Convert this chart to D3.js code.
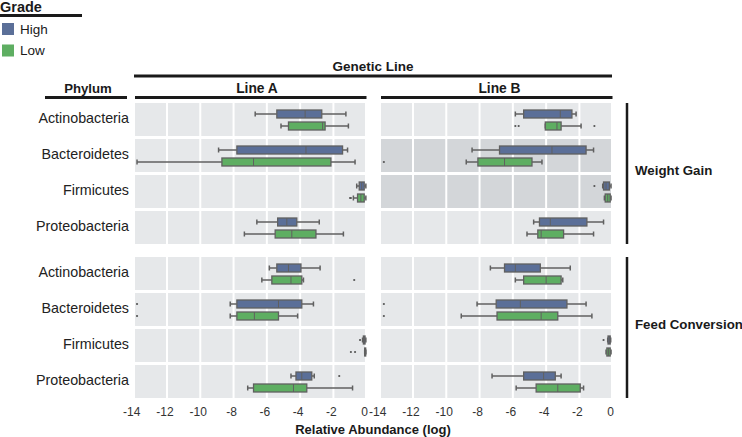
<!DOCTYPE html>
<html><head><meta charset="utf-8">
<script src="https://cdn.jsdelivr.net/npm/d3@7/dist/d3.min.js"></script>
<style>body{margin:0;background:#fff}svg{display:block;font-family:"Liberation Sans",Arial,sans-serif}</style>
</head><body><svg id="c" width="742" height="437"></svg>
<script>
const phyla = ["Actinobacteria","Bacteroidetes","Firmicutes","Proteobacteria"];
const geneticLines = ["Line A","Line B"];
const traits = ["Weight Gain","Feed Conversion"];
const grades = ["High","Low"];
const gradeColors = ["#5b6f98","#5eae62"];
const xTicks = [-14,-12,-10,-8,-6,-4,-2,0];
// [whiskerLow, q1, median, q3, whiskerHigh] per phylum
const wgLineAHigh = [[-6.7,-5.4,-3.7,-2.7,-1.25],[-8.9,-7.8,-3.65,-1.45,-1.15],[-0.6,-0.45,-0.3,-0.15,-0.05],[-6.6,-5.35,-4.8,-4.2,-2.85]];
const wgLineALow  = [[-5.15,-4.7,-2.65,-2.5,-1.1],[-13.8,-8.7,-6.8,-2.15,-0.7],[-0.8,-0.55,-0.35,-0.15,-0.05],[-7.35,-5.5,-4.5,-3.05,-1.4]];
const wgLineBHigh = [[-5.85,-5.35,-3.15,-2.45,-2.2],[-8.45,-6.8,-3.65,-1.6,-1.15],[-0.6,-0.55,-0.4,-0.2,-0.1],[-4.75,-4.4,-3.75,-1.55,-0.55]];
const wgLineBLow  = [[-4.05,-4.05,-3.35,-3.1,-1.9],[-8.8,-8.1,-6.5,-4.85,-4.25],[-0.5,-0.45,-0.3,-0.15,-0.1],[-5.15,-4.5,-4.3,-2.95,-1.15]];
const fcLineAHigh = [[-5.85,-5.4,-4.7,-3.95,-2.8],[-8.2,-7.8,-5.3,-3.9,-3.2],[-0.25,-0.2,-0.15,-0.1,-0.05],[-4.55,-4.25,-3.9,-3.3,-3.15]];
const fcLineALow  = [[-6.3,-5.7,-4.55,-3.9,-3.8],[-8.2,-7.8,-6.75,-5.3,-4.15],[-0.12,-0.12,-0.1,-0.07,-0.05],[-7.15,-6.8,-4.4,-3.6,-0.85]];
const fcLineBHigh = [[-7.35,-6.5,-5.85,-4.35,-2.55],[-8.15,-7.0,-5.55,-2.75,-1.6],[-0.3,-0.28,-0.2,-0.15,-0.12],[-7.25,-5.35,-4.15,-3.45,-3.1]];
const fcLineBLow  = [[-5.85,-5.35,-4.0,-3.1,-3.0],[-9.1,-6.95,-4.3,-3.3,-1.25],[-0.4,-0.35,-0.25,-0.15,-0.1],[-5.8,-4.6,-3.3,-1.95,-1.75]];
// outliers per phylum
const wgLineAHighOut = [[],[],[],[]];
const wgLineALowOut  = [[],[],[-1.0,-0.95],[]];
const wgLineBHighOut = [[],[],[-1.1],[]];
const wgLineBLowOut  = [[-5.85,-5.65,-1.1],[-13.75],[],[]];
const fcLineAHighOut = [[],[-13.8],[-0.4],[-1.65]];
const fcLineALowOut  = [[-0.75],[-13.8],[-0.95,-0.7],[]];
const fcLineBHighOut = [[],[-13.75],[-0.55],[]];
const fcLineBLowOut  = [[],[-13.75],[],[]];
const highlighted = [["Weight Gain","Line B","Bacteroidetes"],["Weight Gain","Line B","Firmicutes"]];

const stats = {
  "Weight Gain": {"Line A": [wgLineAHigh, wgLineALow], "Line B": [wgLineBHigh, wgLineBLow]},
  "Feed Conversion": {"Line A": [fcLineAHigh, fcLineALow], "Line B": [fcLineBHigh, fcLineBLow]}
};
const outs = {
  "Weight Gain": {"Line A": [wgLineAHighOut, wgLineALowOut], "Line B": [wgLineBHighOut, wgLineBLowOut]},
  "Feed Conversion": {"Line A": [fcLineAHighOut, fcLineALowOut], "Line B": [fcLineBHighOut, fcLineBLowOut]}
};

const svg = d3.select("#c");
const ink = "#1a1a1a";
const panelX = {"Line A": [135, 365], "Line B": [381, 611]};
const headerShift = {"Line A": 7, "Line B": 3.5};
const xScales = {};
geneticLines.forEach(l => {
  const [a, b] = panelX[l];
  xScales[l] = d3.scaleLinear().domain([-14, 0]).range([a - 1.3, b + 1.7]);
});
const groupY = {"Weight Gain": [103, 244], "Feed Conversion": [257, 398]};
const yScales = {};
traits.forEach(t => {
  yScales[t] = d3.scaleBand().domain(phyla).range(groupY[t]).paddingInner(3/36).paddingOuter(0);
});
const inner = d3.scalePoint().domain(grades).range([11, 23]);
const boxH = 8;

// Legend
svg.append("text").attr("x", 0).attr("y", 12).attr("font-weight", "bold").attr("font-size", 14.5).attr("fill", ink).text("Grade");
svg.append("line").attr("x1", 0).attr("x2", 82).attr("y1", 15.5).attr("y2", 15.5).attr("stroke", ink).attr("stroke-width", 3);
grades.forEach((g, i) => {
  const y = 23 + i * 21.5;
  svg.append("rect").attr("x", 2).attr("y", y).attr("width", 12).attr("height", 12).attr("fill", gradeColors[i]);
  svg.append("text").attr("x", 20).attr("y", y + 6).attr("dy", "0.35em").attr("font-size", 13.5).attr("fill", ink).text(g);
});

// Headers
svg.append("text").attr("x", 373).attr("y", 66).attr("dy", "0.35em").attr("text-anchor", "middle").attr("font-weight", "bold").attr("font-size", 13.5).attr("fill", ink).text("Genetic Line");
svg.append("line").attr("x1", 134).attr("x2", 612).attr("y1", 76).attr("y2", 76).attr("stroke", ink).attr("stroke-width", 3);
svg.append("text").attr("x", 88).attr("y", 88).attr("dy", "0.35em").attr("text-anchor", "middle").attr("font-weight", "bold").attr("font-size", 13.2).attr("fill", ink).text("Phylum");
svg.append("line").attr("x1", 45).attr("x2", 127).attr("y1", 97.5).attr("y2", 97.5).attr("stroke", ink).attr("stroke-width", 3);
geneticLines.forEach(l => {
  const [a, b] = panelX[l];
  svg.append("text").attr("x", (a + b) / 2 + headerShift[l]).attr("y", 88).attr("dy", "0.35em").attr("text-anchor", "middle").attr("font-weight", "bold").attr("font-size", 13.8).attr("fill", ink).text(l);
  svg.append("line").attr("x1", a).attr("x2", b + 1.5).attr("y1", 97.5).attr("y2", 97.5).attr("stroke", ink).attr("stroke-width", 3);
});

// Row labels and strip labels
traits.forEach(t => {
  const ys = yScales[t];
  phyla.forEach(p => {
    svg.append("text").attr("x", 129).attr("y", ys(p) + ys.bandwidth() / 2 - 1.5).attr("dy", "0.35em").attr("text-anchor", "end").attr("font-size", 14.3).attr("fill", "#222").text(p);
  });
  const [y0, y1] = groupY[t];
  svg.append("line").attr("x1", 627).attr("x2", 627).attr("y1", y0).attr("y2", y1).attr("stroke", ink).attr("stroke-width", 2.5);
  svg.append("text").attr("x", 635).attr("y", (y0 + y1) / 2 - 3).attr("dy", "0.35em").attr("font-weight", "bold").attr("font-size", 13.3).attr("fill", ink).text(t);
});

// Panels
geneticLines.forEach(l => {
  const xs = xScales[l];
  const [a, b] = panelX[l];
  traits.forEach(t => {
    const ys = yScales[t];
    const g = svg.append("g");
    phyla.forEach((p, pi) => {
      const hl = highlighted.some(h => h[0] === t && h[1] === l && h[2] === p);
      const top = ys(p), bw = ys.bandwidth();
      g.append("rect").attr("x", a).attr("y", top).attr("width", b - a).attr("height", bw).attr("fill", hl ? "#d3d6d9" : "#e6e8ea");
      xTicks.slice(1, -1).forEach(v => {
        g.append("line").attr("x1", xs(v)).attr("x2", xs(v)).attr("y1", top).attr("y2", top + bw).attr("stroke", "#fff").attr("stroke-width", 2);
      });
      grades.forEach((gr, gi) => {
        const s = stats[t][l][gi][pi];
        const cy = top + inner(gr);
        const st = "#606060";
        g.append("line").attr("x1", xs(s[0])).attr("x2", xs(s[1])).attr("y1", cy).attr("y2", cy).attr("stroke", st).attr("stroke-width", 1.5);
        g.append("line").attr("x1", xs(s[3])).attr("x2", xs(s[4])).attr("y1", cy).attr("y2", cy).attr("stroke", st).attr("stroke-width", 1.5);
        [s[0], s[4]].forEach(v => g.append("line").attr("x1", xs(v)).attr("x2", xs(v)).attr("y1", cy - 2.5).attr("y2", cy + 2.5).attr("stroke", st).attr("stroke-width", 1.5));
        g.append("rect").attr("x", xs(s[1])).attr("y", cy - boxH / 2).attr("width", Math.max(1, xs(s[3]) - xs(s[1]))).attr("height", boxH)
          .attr("fill", gradeColors[gi]).attr("stroke", st).attr("stroke-width", 1.3);
        g.append("line").attr("x1", xs(s[2])).attr("x2", xs(s[2])).attr("y1", cy - boxH / 2).attr("y2", cy + boxH / 2).attr("stroke", st).attr("stroke-width", 1);
        outs[t][l][gi][pi].forEach(v => {
          g.append("circle").attr("cx", xs(v)).attr("cy", cy).attr("r", 1.1).attr("fill", "#555");
        });
      });
    });
  });
  // x axis labels
  xTicks.forEach(v => {
    svg.append("text").attr("x", xs(v) - 2).attr("y", 411.5).attr("dy", "0.35em").attr("text-anchor", "middle").attr("font-size", 12).attr("fill", "#333").text(v === 0 ? "0" : "-" + Math.abs(v));
  });
});
svg.append("text").attr("x", 373).attr("y", 429).attr("dy", "0.35em").attr("text-anchor", "middle").attr("font-weight", "bold").attr("font-size", 13).attr("fill", ink).text("Relative Abundance (log)");
</script></body></html>
